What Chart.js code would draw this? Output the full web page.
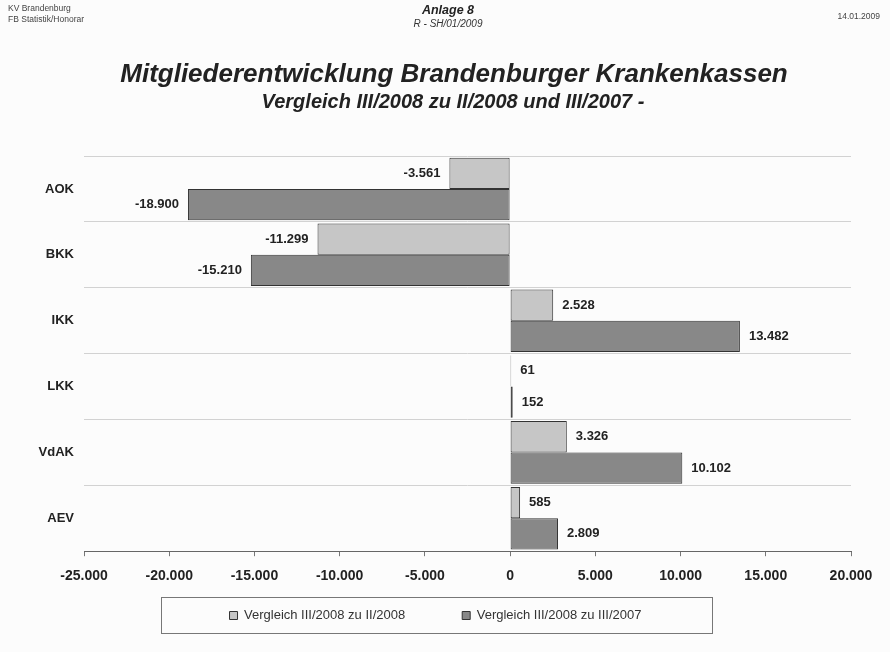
<!DOCTYPE html>
<html>
<head>
<meta charset="utf-8">
<script src="https://cdn.jsdelivr.net/npm/chart.js@4.4.1/dist/chart.umd.min.js"></script>
<style>
  html, body { margin: 0; padding: 0; background: #fcfcfc; }
  #wrap { position: relative; width: 890px; height: 652px; overflow: hidden; font-family: "Liberation Sans", Arial, sans-serif; color: #222; }
  #c { position: absolute; left: 0; top: 0; }
  .t { position: absolute; white-space: nowrap; }
</style>
</head>
<body>
<div id="wrap">
  <canvas id="c" width="890" height="652"></canvas>
  <div class="t" style="left:8px;top:3px;font-size:8.5px;color:#444;line-height:11px;">KV Brandenburg<br>FB Statistik/Honorar</div>
  <div class="t" style="left:0;width:896px;top:3px;text-align:center;font-size:12.5px;font-weight:bold;font-style:italic;color:#222;">Anlage 8</div>
  <div class="t" style="left:0;width:896px;top:18px;text-align:center;font-size:10px;font-style:italic;color:#333;">R - SH/01/2009</div>
  <div class="t" style="right:10px;top:11px;font-size:8.5px;color:#444;">14.01.2009</div>
  <div class="t" style="left:0;width:908px;top:58px;text-align:center;font-size:26px;line-height:30px;font-weight:bold;font-style:italic;color:#222;">Mitgliederentwicklung Brandenburger Krankenkassen</div>
  <div class="t" style="left:0;width:906px;top:90px;text-align:center;font-size:20px;line-height:23px;font-weight:bold;font-style:italic;color:#222;">Vergleich III/2008 zu II/2008 und III/2007 -</div>
</div>
<script>
const categories = ["AOK", "BKK", "IKK", "LKK", "VdAK", "AEV"];
const seriesNames = ["Vergleich III/2008 zu II/2008", "Vergleich III/2008 zu III/2007"];
const vsPrevQuarter = [-3561, -11299, 2528, 61, 3326, 585];
const vsPrevYear = [-18900, -15210, 13482, 152, 10102, 2809];
const xTicks = [-25000, -20000, -15000, -10000, -5000, 0, 5000, 10000, 15000, 20000];

const LEGEND_GAP = 57;

function fmt(v) {
  const s = Math.abs(Math.round(v)).toString().replace(/\B(?=(\d{3})+(?!\d))/g, ".");
  return (v < 0 ? "-" : "") + s;
}

const valueLabels = {
  id: "valueLabels",
  afterDatasetsDraw(chart) {
    const ctx = chart.ctx;
    ctx.save();
    ctx.font = "bold 13px 'Liberation Sans', Arial, sans-serif";
    ctx.fillStyle = "#222";
    ctx.textBaseline = "middle";
    chart.data.datasets.forEach((ds, di) => {
      const meta = chart.getDatasetMeta(di);
      meta.data.forEach((bar, i) => {
        const v = ds.data[i];
        if (v < 0) { ctx.textAlign = "right"; ctx.fillText(fmt(v), bar.x - 9, bar.y); }
        else { ctx.textAlign = "left"; ctx.fillText(fmt(v), bar.x + 9, bar.y); }
      });
    });
    ctx.restore();
  }
};

// Keeps the legend row inside its framed box although the item gap is wide.
const legendBox = {
  id: "legendBox",
  beforeDraw(chart) {
    const lg = chart.legend;
    if (!lg) return;
    lg._origTop = lg.top;
    const mid = (lg.top + lg.bottom) / 2;
    lg.top = mid - LEGEND_GAP - 6.5;
  },
  afterDraw(chart) {
    const lg = chart.legend;
    if (!lg) return;
    if (lg._origTop !== undefined) lg.top = lg._origTop;
    const ctx = chart.ctx;
    const cx = (lg.left + lg.right) / 2;
    ctx.save();
    ctx.strokeStyle = "#777";
    ctx.lineWidth = 1;
    ctx.strokeRect(Math.round(cx - 275) + 0.5, Math.round(lg.top) + 0.5, 551, Math.round(lg.bottom - lg.top) - 1);
    ctx.restore();
  }
};

new Chart(document.getElementById("c"), {
  type: "bar",
  data: {
    labels: categories,
    datasets: [
      { label: seriesNames[0], data: vsPrevQuarter, backgroundColor: "#c6c6c6", borderColor: "#333", borderWidth: 1, borderSkipped: false },
      { label: seriesNames[1], data: vsPrevYear, backgroundColor: "#888888", borderColor: "#333", borderWidth: 1, borderSkipped: false }
    ]
  },
  options: {
    indexAxis: "y",
    responsive: false,
    animation: false,
    devicePixelRatio: 1,
    layout: { padding: { left: 20, right: 39, top: 156, bottom: 18 } },
    datasets: { bar: { categoryPercentage: 0.95, barPercentage: 1.0 } },
    scales: {
      x: {
        min: -25000, max: 20000,
        afterBuildTicks(scale) { scale.ticks = xTicks.map(v => ({ value: v })); },
        grid: { drawOnChartArea: false, drawTicks: true, tickLength: 5, color: "#777" },
        border: { display: true, color: "#666", width: 1 },
        ticks: { callback: v => fmt(v), font: { family: "'Liberation Sans', Arial, sans-serif", size: 14, weight: "bold" }, color: "#222", padding: 12, maxRotation: 0, autoSkip: false }
      },
      y: {
        afterFit(scale) { scale.width = 64; },
        grid: { color: "#d2d2d2", drawTicks: false, offset: true },
        border: { display: false },
        ticks: { font: { family: "'Liberation Sans', Arial, sans-serif", size: 13, weight: "bold" }, color: "#222", padding: 10 }
      }
    },
    plugins: {
      legend: {
        position: "bottom",
        maxHeight: 37,
        labels: { boxWidth: 8, boxHeight: 8, padding: LEGEND_GAP, font: { family: "'Liberation Sans', Arial, sans-serif", size: 13 }, color: "#333" }
      },
      tooltip: { enabled: false },
      title: { display: false }
    }
  },
  plugins: [valueLabels, legendBox]
});
</script>
</body>
</html>
